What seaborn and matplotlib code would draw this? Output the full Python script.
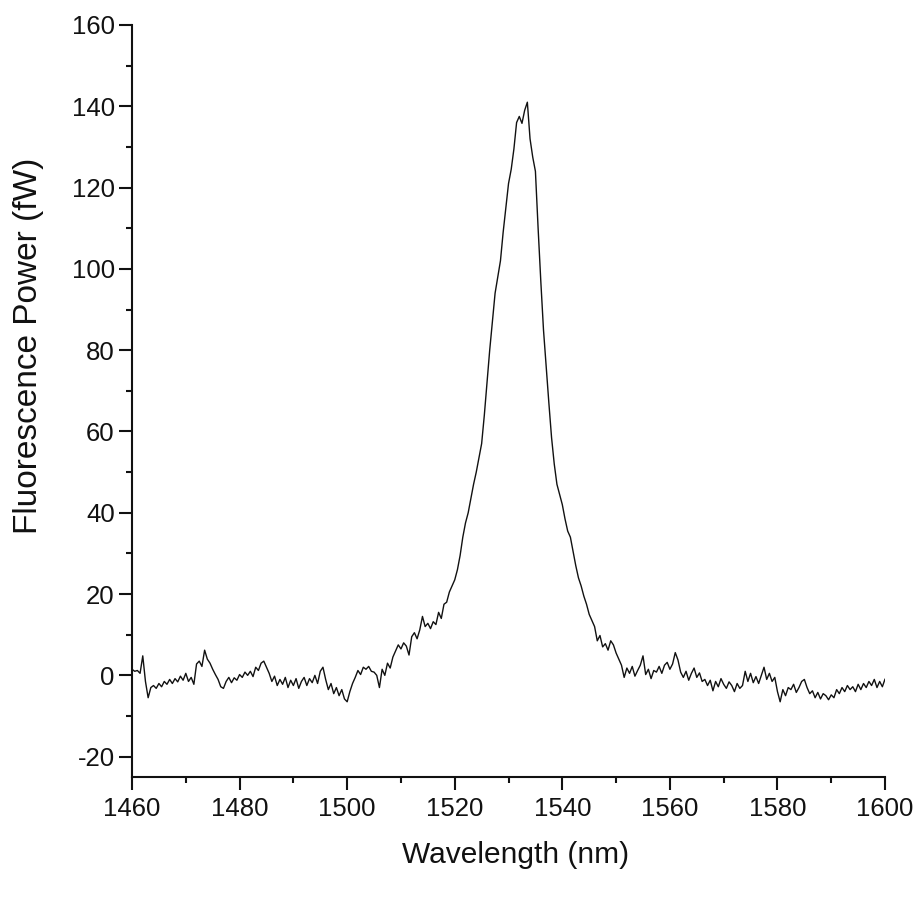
import numpy as np
import pandas as pd
import matplotlib
matplotlib.use("Agg")
import matplotlib.pyplot as plt
from matplotlib.ticker import MultipleLocator
import seaborn as sns

# Wavelength grid (nm), 0.5 nm steps
wl_start, wl_stop, wl_step = 1460.0, 1600.0, 0.5

# Fluorescence power (fW), one row per 5 nm
power_fw = [
    1.5, 1.0, 1.2, 0.5, 4.8, -1.5, -5.5, -3.0, -2.5, -3.2,          # 1460
    -2.0, -2.8, -1.5, -2.2, -1.0, -2.0, -0.8, -1.6, -0.2, -1.2,     # 1465
    0.5, -1.5, -0.5, -2.2, 2.8, 3.5, 2.2, 6.2, 4.0, 3.0,            # 1470
    1.5, 0.2, -1.0, -2.8, -3.2, -1.5, -0.5, -1.8, -0.6, -1.2,       # 1475
    0.2, -0.5, 0.8, 0.0, 1.0, -0.3, 2.0, 1.2, 3.0, 3.5,             # 1480
    2.0, 0.5, -1.5, -0.2, -2.5, -1.0, -2.2, -0.5, -3.0, -1.2,       # 1485
    -2.5, -0.8, -3.2, -1.5, -0.5, -2.5, -0.8, -1.8, 0.0, -2.0,      # 1490
    1.0, 2.0, -1.0, -3.5, -2.0, -4.5, -3.0, -5.0, -3.5, -5.8,       # 1495
    -6.5, -4.0, -2.0, -0.5, 1.2, 0.2, 2.0, 1.5, 2.2, 1.0,           # 1500
    0.8, 0.0, -3.0, 1.5, 0.0, 3.0, 1.8, 4.5, 6.0, 7.5,              # 1505
    6.5, 8.0, 7.2, 5.0, 9.5, 10.5, 9.0, 11.2, 14.5, 12.0,           # 1510
    12.8, 11.5, 13.2, 12.5, 15.5, 14.0, 17.5, 18.0, 20.5, 22.0,     # 1515
    23.5, 26.0, 29.5, 34.0, 37.5, 40.0, 43.5, 47.0, 50.0, 53.5,     # 1520
    57.0, 64.0, 72.0, 80.0, 87.0, 94.0, 98.0, 102.0, 109.0, 115.0,  # 1525
    121.0, 124.5, 129.5, 136.0, 137.5, 135.8, 139.0, 141.0, 132.0, 127.5,  # 1530
    124.0, 110.0, 97.0, 85.0, 76.0, 67.0, 58.5, 52.0, 47.0, 44.5,   # 1535
    42.0, 38.5, 35.5, 34.0, 30.5, 27.0, 24.0, 22.0, 19.5, 17.5,     # 1540
    15.0, 13.5, 12.0, 8.5, 9.8, 7.0, 7.8, 6.2, 8.5, 7.5,            # 1545
    5.5, 4.0, 2.5, -0.5, 1.8, 0.5, 2.2, -0.2, 1.2, 2.5,             # 1550
    4.8, 0.2, 1.5, -0.8, 1.2, 0.8, 2.2, 0.5, 2.5, 3.2,              # 1555
    1.5, 2.8, 5.6, 3.8, 0.8, -0.5, 1.0, -1.2, 0.5, 1.8,             # 1560
    -0.5, 0.6, -1.5, -1.0, -2.5, -1.2, -3.8, -1.5, -2.8, -0.8,      # 1565
    -2.2, -3.2, -1.6, -2.5, -4.0, -2.0, -3.2, -2.5, 1.0, -1.5,      # 1570
    0.5, -1.8, -0.3, -2.0, 0.0, 2.0, -1.0, 0.5, -1.5, -0.5,         # 1575
    -4.0, -6.5, -3.5, -5.0, -3.0, -3.5, -2.2, -4.2, -3.0, -1.5,     # 1580
    -1.0, -3.0, -4.5, -3.8, -5.5, -4.2, -5.8, -4.5, -5.0, -6.0,     # 1585
    -4.8, -5.5, -3.5, -4.5, -3.0, -4.0, -2.5, -3.5, -2.8, -4.0,     # 1590
    -2.2, -3.5, -2.0, -3.0, -1.5, -2.5, -1.0, -3.0, -1.5, -2.8,     # 1595
    -0.9,                                                          # 1600
]

x_ticks = [1460, 1480, 1500, 1520, 1540, 1560, 1580, 1600]
y_ticks = [-20, 0, 20, 40, 60, 80, 100, 120, 140, 160]

wavelength = np.arange(len(power_fw)) * wl_step + wl_start
df = pd.DataFrame({"Wavelength (nm)": wavelength, "Fluorescence Power (fW)": power_fw})

sns.set_style("ticks")
plt.rcParams["font.family"] = ["Liberation Sans", "DejaVu Sans"]
plt.rcParams["axes.unicode_minus"] = False

fig = plt.figure(figsize=(9.18, 9.02), dpi=100)
ax = fig.add_axes([0.1438, 0.1386, 0.8203, 0.8337])

sns.lineplot(data=df, x="Wavelength (nm)", y="Fluorescence Power (fW)",
             ax=ax, color="#111111", linewidth=1.0, estimator=None)

ax.set_xlim(1460, 1600)
ax.set_ylim(-25, 160)
ax.set_xticks(x_ticks)
ax.set_yticks(y_ticks)
ax.xaxis.set_minor_locator(MultipleLocator(10))
ax.yaxis.set_minor_locator(MultipleLocator(10))

for side in ("top", "right"):
    ax.spines[side].set_visible(False)
for side in ("left", "bottom"):
    ax.spines[side].set_linewidth(1.5)
    ax.spines[side].set_color("#111111")

ax.tick_params(which="major", length=9.5, width=1.5, color="#111111", direction="out",
               labelsize=18.5, labelcolor="#111111")
ax.tick_params(which="minor", length=4.5, width=1.5, color="#111111", direction="out")
ax.tick_params(axis="x", which="major", pad=5)
ax.tick_params(axis="y", which="major", pad=3)

ax.set_xlabel("Wavelength (nm)", fontsize=21.5, color="#111111")
ax.set_ylabel("Fluorescence Power (fW)", fontsize=24, color="#111111")
ax.xaxis.set_label_coords(0.509, -0.085)
ax.xaxis.label.set_verticalalignment("top")
ax.yaxis.set_label_coords(-0.117, 0.574)

fig.savefig("out.png", dpi=100, facecolor="white")
